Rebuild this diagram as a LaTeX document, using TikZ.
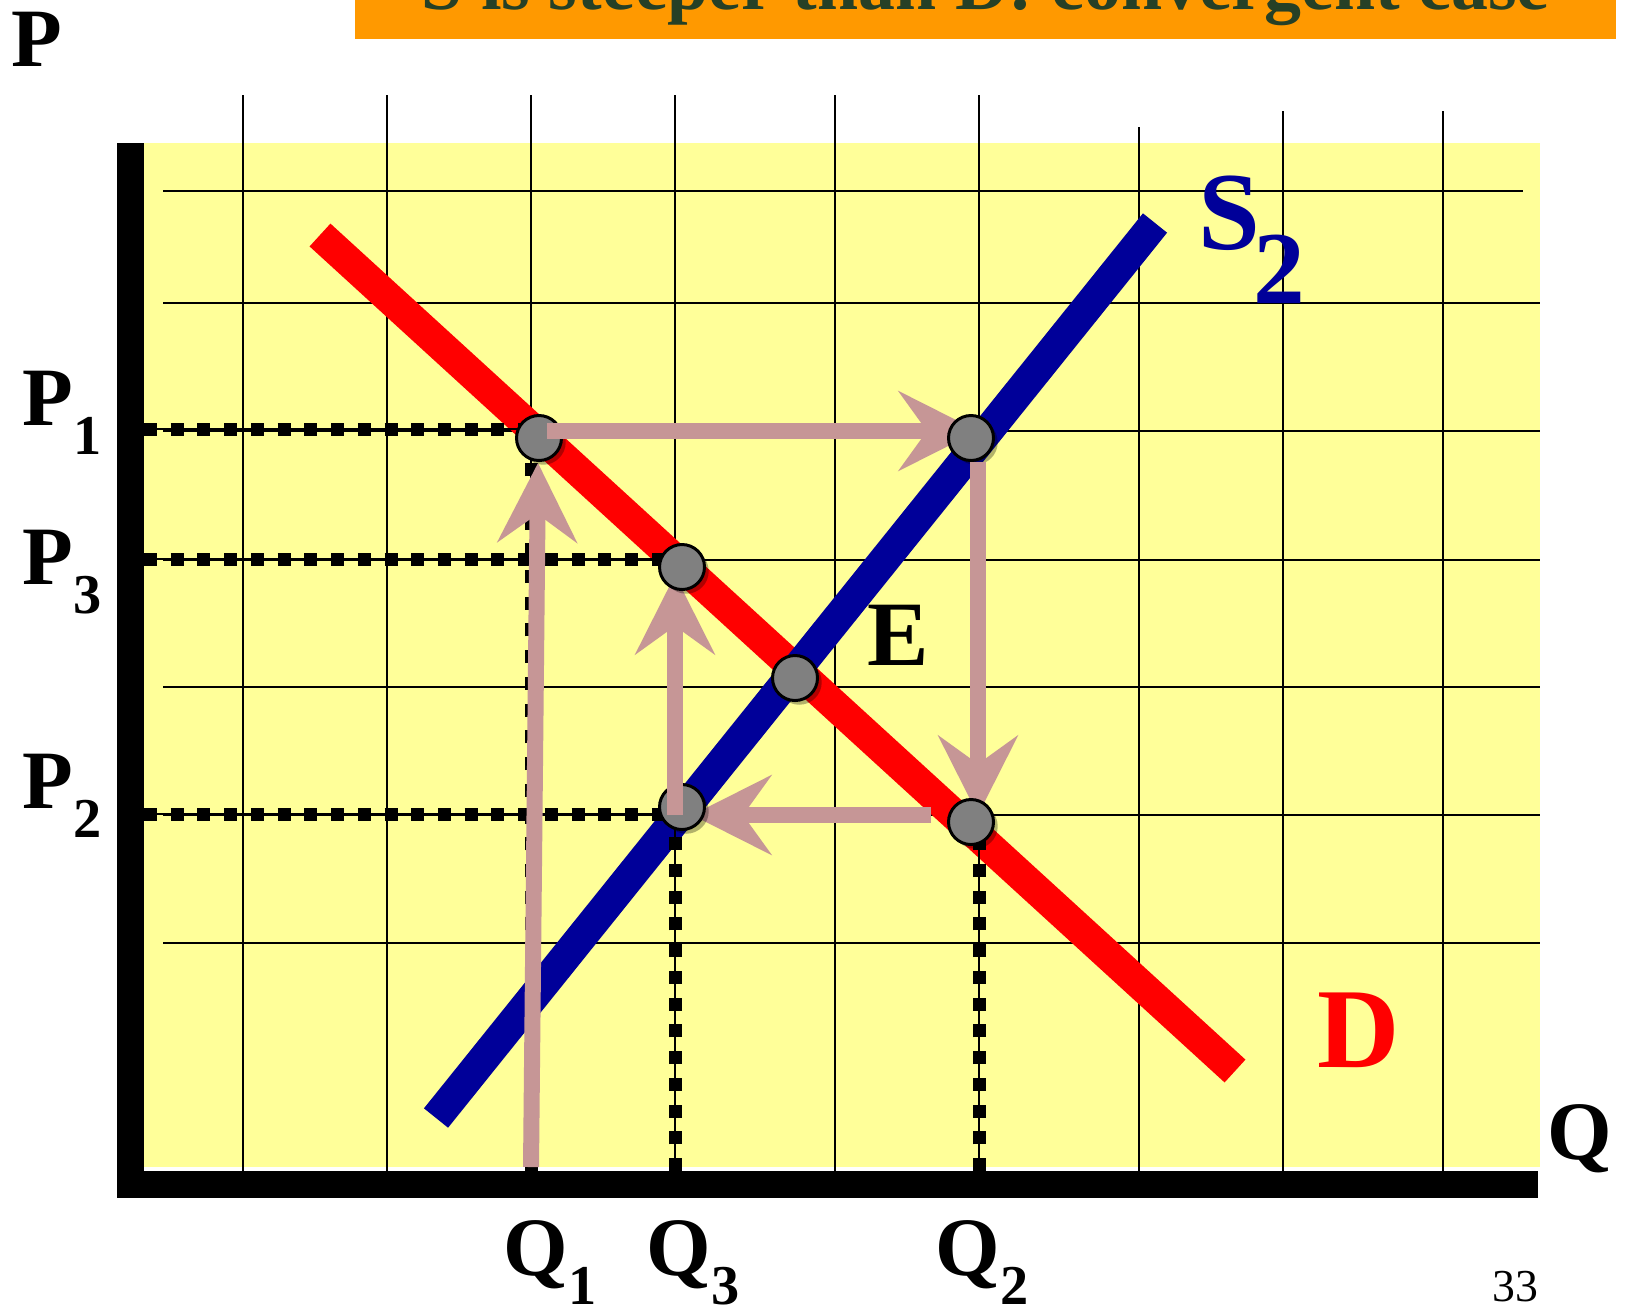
\documentclass[tikz,border=0pt]{standalone}
\usepackage{fontspec}
\setmainfont{Liberation Serif}
\usepackage{xcolor}
\usepackage{tikz}
\usetikzlibrary{positioning, arrows.meta, calc, shadows}
\definecolor{paper}{RGB}{255,255,153}
\definecolor{navy}{RGB}{0,0,153}
\definecolor{cobweb}{RGB}{198,150,150}
\definecolor{banner}{RGB}{255,153,0}
\definecolor{bannertext}{RGB}{38,64,38}
\newcommand{\lsub}[1]{\raisebox{-8.3pt}{\fontsize{16pt}{16pt}\selectfont #1}}
\tikzset{
  gridline/.style = {draw=black, line width=0.57pt},
  schedule/.style = {line width=8.8pt},
  guide/.style    = {draw=black, line width=0.57pt,
                     postaction={draw, line width=3.7pt,
                                 dash pattern=on 3.7pt off 3.9pt}},
  cobarrow/.style = {draw=cobweb, line width=4.55pt,
                     -{Stealth[length=22.5pt, width=22.5pt, inset=8pt]}},
  eqdot/.style    = {circle, draw=black, line width=0.85pt, fill=black!50,
                     minimum size=12.8pt, inner sep=0pt,
                     drop shadow={shadow xshift=1.2pt, shadow yshift=-1.2pt,
                                  opacity=0.3, fill=black}},
  axlbl/.style    = {font=\fontsize{23.6pt}{24pt}\selectfont\bfseries,
                     inner sep=0pt, anchor=base west},
  curvelbl/.style = {inner sep=0pt, anchor=base west}
}

\begin{document}
\begin{tikzpicture}[x=0.01cm, y=-0.01cm]
  \useasboundingbox (0,0) rectangle (1625,1311);
  \clip (0,0) rectangle (1625,1311);

  % Points of the cobweb
  \coordinate (A) at (539,438);
  \coordinate (B) at (971,438);
  \coordinate (C) at (682,567);
  \coordinate (E) at (795,678);
  \coordinate (F) at (682,807);
  \coordinate (G) at (971,822);

  % Title banner, cut by the top of the slide
  \fill[banner] (355,0) rectangle (1616,39);
  \node[anchor=base west, inner sep=0pt, text=bannertext,
        font=\fontsize{21pt}{22pt}\selectfont\bfseries] (title) at (421,9)
    {S is steeper than D: convergent case};

  % Plot area and grid
  \fill[paper] (144,143) rectangle (1540,1167);
  \foreach \x/\yt in {243/95, 387/95, 531/95, 675/95, 835/95, 979/95,
                      1139/127, 1283/111, 1443/111}
    \draw[gridline] (\x,\yt) -- (\x,1171);
  \draw[gridline] (163,191) -- (1523,191);
  \foreach \y in {303, 431, 560, 687, 815, 943}
    \draw[gridline] (163,\y) -- (1540,\y);

  % Axes
  \fill (117,143) rectangle (144,1198);
  \fill (117,1171) rectangle (1538,1198);

  % Demand and supply
  \coordinate (d0) at (320,235);
  \coordinate (d1) at (1235,1071);
  \coordinate (s0) at (436,1118);
  \coordinate (s1) at (1155,223);
  \draw[schedule, red] (d0) -- (d1);
  \draw[schedule, navy] (s0) -- (s1);

  % Dotted guides to the axes
  \coordinate (p1) at (144,429);
  \coordinate (p3) at (144,559);
  \coordinate (p2) at (144,814);
  \coordinate (q1) at (531,1171);
  \coordinate (q3) at (675,1171);
  \coordinate (q2) at (979,1171);
  \draw[guide] (p1) -- (p1 -| A);
  \draw[guide] (p3) -- (p3 -| C);
  \draw[guide] (p2) -- (p2 -| F);
  \draw[guide] (q1) -- (q1 |- A);
  \draw[guide] (q3) -- (q3 |- F);
  \draw[guide] (q2) -- (q2 |- G);

  % Cobweb, drawn in the order it is walked
  \coordinate (q1foot) at (531,1167);
  \draw[cobarrow] (q1foot) -- ($(A)+(-1,25)$);
  \node[eqdot] (pA) at (A) {};
  \draw[cobarrow] ($(A)+(8,-7)$) -- ($(B)+(7,-7)$);
  \node[eqdot] (pB) at (B) {};
  \draw[cobarrow] ($(B)+(7,24)$) -- ($(G)+(7,-7)$);
  \node[eqdot] (pG) at (G) {};
  \draw[cobarrow] ($(G)+(-40,-7)$) -- ($(F)+(10,8)$);
  \node[eqdot] (pF) at (F) {};
  \draw[cobarrow] ($(F)+(-7,8)$) -- ($(C)+(-7,8)$);
  \node[eqdot] (pC) at (C) {};
  \node[eqdot] (pE) at (E) {};

  % Axis labels
  \node[axlbl] (plbl) at (11,66) {P};
  \node[axlbl] (p1lbl) at (22,425) {P\lsub{1}};
  \node[axlbl] (p3lbl) at (22,584) {P\lsub{3}};
  \node[axlbl] (p2lbl) at (22,808) {P\lsub{2}};
  \node[axlbl] (q1lbl) at (503,1275) {Q\lsub{1}};
  \node[axlbl] (q3lbl) at (646,1275) {Q\lsub{3}};
  \node[axlbl] (q2lbl) at (935,1275) {Q\lsub{2}};
  \node[axlbl] (qlbl) at (1547,1159) {Q};

  % Curve labels
  \node[curvelbl, text=navy, font=\fontsize{31.6pt}{32pt}\selectfont\bfseries]
    (slbl) at (1198,249) {S\raisebox{-15.4pt}{\kern-2pt\fontsize{29.4pt}{30pt}\selectfont 2}};
  \node[curvelbl, text=red, font=\fontsize{32.4pt}{33pt}\selectfont\bfseries]
    (dlbl) at (1317,1067) {D};
  \node[curvelbl, font=\fontsize{26.2pt}{27pt}\selectfont\bfseries]
    (elbl) at (867,665) {E};

  % Slide number
  \node[curvelbl, font=\fontsize{13pt}{14pt}\selectfont] (pgno) at (1492,1301) {33};
\end{tikzpicture}
\end{document}
